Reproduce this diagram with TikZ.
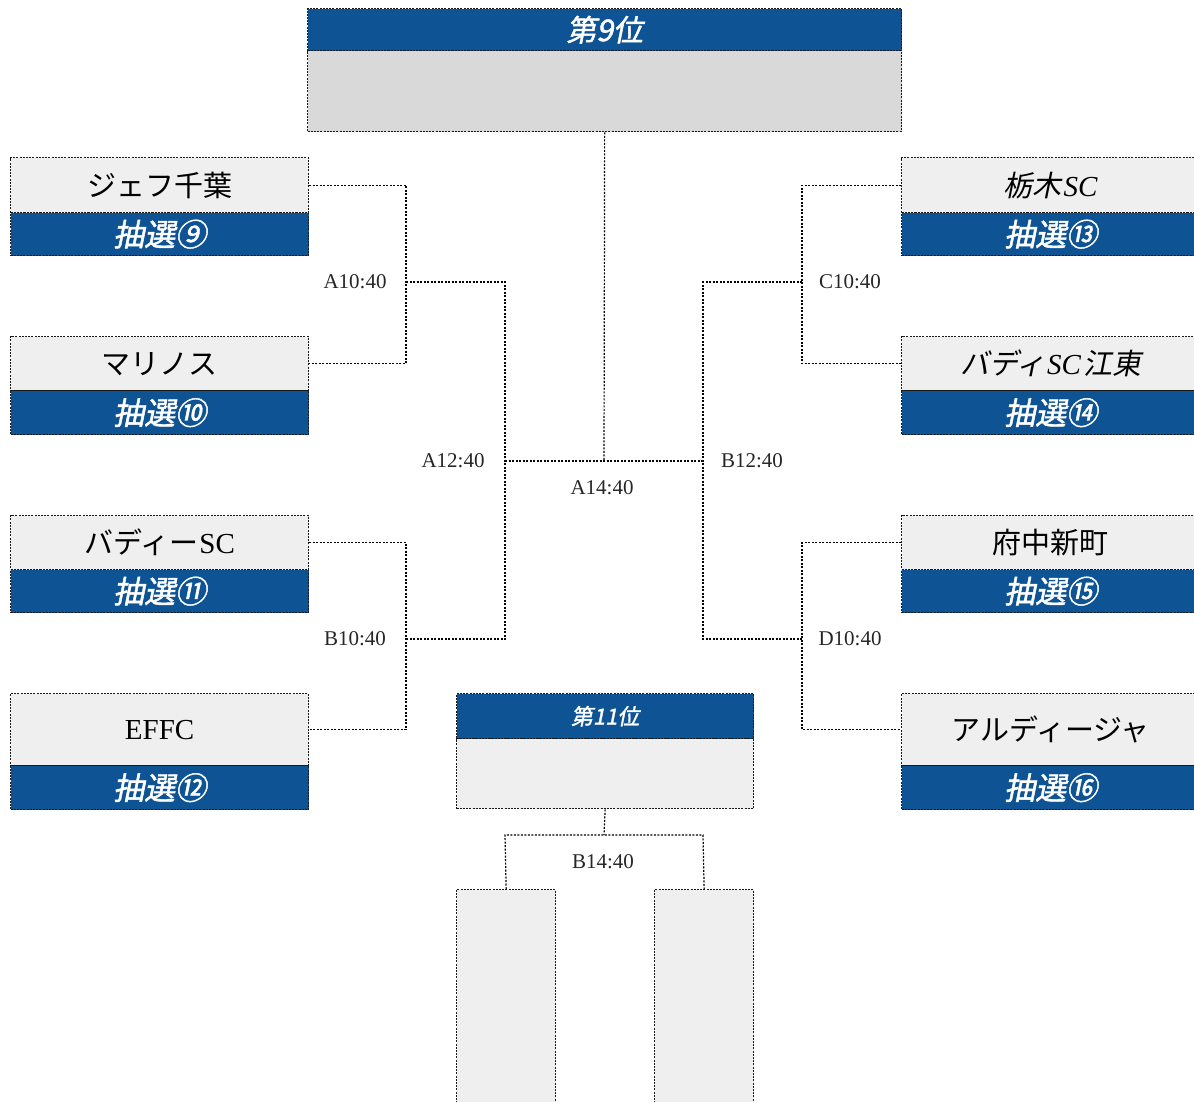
\documentclass[tikz,border=0pt]{standalone}
\usepackage{fontspec}
\setmainfont{Liberation Serif}
\newfontfamily\jp{Noto Sans CJK JP}
\newfontfamily\jpit[FakeSlant=0.2]{Noto Sans CJK JP}
\newfontfamily\jpbi[FakeSlant=0.2,FakeBold=1.5]{Noto Sans CJK JP}
\definecolor{navy}{RGB}{14,83,148}
\definecolor{lightg}{RGB}{239,239,239}
\definecolor{midg}{RGB}{217,217,217}
\tikzset{
  boxline/.style={draw=black!90, dash pattern=on 2pt off 1.2pt, line width=1.3pt},
  namebox/.style={boxline, fill=lightg, inner sep=0pt, anchor=north west,
    minimum width=298pt, minimum height=#1, font=\fontsize{29}{29}\selectfont},
  lotbox/.style={boxline, fill=navy, text=white, inner sep=0pt, anchor=north west,
    minimum width=298pt, minimum height=#1, font=\fontsize{31}{31}\selectfont\jpbi},
  headbox/.style={boxline, fill=navy, text=white, inner sep=0pt, anchor=north west},
  bodybox/.style={boxline, inner sep=0pt, anchor=north west},
  conn/.style={draw=black, line width=1.2pt, dash pattern=on 2pt off 1.5pt},
  lbl/.style={font=\fontsize{21}{21}\selectfont, text=black!85, inner sep=0pt},
}
\begin{document}
\begin{tikzpicture}[x=1pt,y=-1pt]
\useasboundingbox (0,0) rectangle (1194,1102);

% 9th place box
\node[headbox, minimum width=594pt, minimum height=42pt, font=\fontsize{30}{30}\selectfont\jpbi] (p9h) at (307,8) {第9位};
\node[bodybox, fill=midg, minimum width=594pt, minimum height=81pt] (p9b) at (307,50) {};

% left teams
\node[namebox=55pt] (t1n) at (10,157) {\jp ジェフ千葉};
\node[lotbox=43pt] (t1l) at (10,212) {抽選⑨};
\node[namebox=54pt] (t2n) at (10,336) {\jp マリノス};
\node[lotbox=44pt] (t2l) at (10,390) {抽選⑩};
\node[namebox=54pt] (t3n) at (10,515) {{\jp バディー}\kern1pt SC};
\node[lotbox=43pt] (t3l) at (10,569) {抽選⑪};
\node[namebox=72pt] (t4n) at (10,693) {EFFC};
\node[lotbox=44pt] (t4l) at (10,765) {抽選⑫};

% right teams
\node[namebox=55pt] (t5n) at (901,157) {{\jpit 栃木}\kern2pt\textit{SC}};
\node[lotbox=43pt] (t5l) at (901,212) {抽選⑬};
\node[namebox=54pt] (t6n) at (901,336) {{\jpit バディ}\kern2pt\textit{SC}\kern2pt{\jpit 江東}};
\node[lotbox=44pt] (t6l) at (901,390) {抽選⑭};
\node[namebox=54pt] (t7n) at (901,515) {\jp 府中新町};
\node[lotbox=43pt] (t7l) at (901,569) {抽選⑮};
\node[namebox=72pt] (t8n) at (901,693) {\jp アルディージャ};
\node[lotbox=44pt] (t8l) at (901,765) {抽選⑯};

% 11th place box
\node[headbox, minimum width=297pt, minimum height=45pt, font=\fontsize{22}{22}\selectfont\jpbi] (p11h) at (456,693) {第11位};
\node[bodybox, fill=lightg, minimum width=297pt, minimum height=70pt] (p11b) at (456,738) {};

% bottom boxes
\node[bodybox, fill=lightg, minimum width=99pt, minimum height=240pt] (q1) at (456,889) {};
\node[bodybox, fill=lightg, minimum width=99pt, minimum height=240pt] (q2) at (654,889) {};

% junction coordinates
\coordinate (a10) at (406,282);
\coordinate (b10) at (406,639);
\coordinate (c10) at (802,282);
\coordinate (d10) at (802,639);
\coordinate (a12) at (505,461);
\coordinate (b12) at (703,461);
\coordinate (a14) at (604,461);
\coordinate (b14) at (604,835);
\coordinate (b14l) at (505,835);
\coordinate (b14r) at (703,835);

% connectors
\draw[conn] (t1n.east) -| (a10) |- (t2n.east);
\draw[conn] (t3n.east) -| (b10) |- (t4n.east);
\draw[conn] (t5n.west) -| (c10) |- (t6n.west);
\draw[conn] (t7n.west) -| (d10) |- (t8n.west);
\draw[conn] (a10) -| (a12) |- (b10);
\draw[conn] (c10) -| (b12) |- (d10);
\draw[conn] (a12) -- (a14) -- (b12);
\draw[conn] (p9b.south) -- (a14);
\draw[conn] (p11b.south) -- (b14);
\draw[conn] (q1.north) -- (b14l) -- (b14r) -- (q2.north);

% labels
\node[lbl] (la10) at (355,282) {A10:40};
\node[lbl] (lb10) at (355,639) {B10:40};
\node[lbl] (lc10) at (850,282) {C10:40};
\node[lbl] (ld10) at (850,639) {D10:40};
\node[lbl] (la12) at (453,461) {A12:40};
\node[lbl] (lb12) at (752,461) {B12:40};
\node[lbl] (la14) at (602,488) {A14:40};
\node[lbl] (lb14) at (603,862) {B14:40};
\end{tikzpicture}
\end{document}
